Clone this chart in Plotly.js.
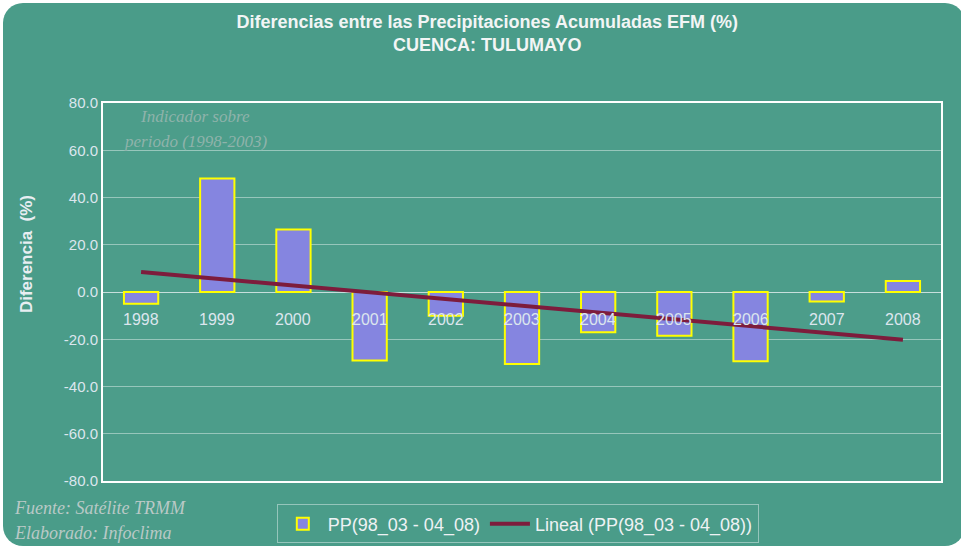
<!DOCTYPE html>
<html>
<head>
<meta charset="utf-8">
<script src="https://cdn.plot.ly/plotly-3.0.1.min.js"></script>
<style>
html,body{margin:0;padding:0;background:#ffffff;}
#wrap{position:absolute;left:3px;top:3px;width:962px;height:543px;background:#4a9c89;border-radius:20px;overflow:hidden;}
#chart{position:absolute;left:-3px;top:-3px;width:961px;height:551px;}
</style>
</head>
<body>
<div id="wrap"><div id="chart"></div></div>
<script>
// Data
const categories = ['1998','1999','2000','2001','2002','2003','2004','2005','2006','2007','2008'];
const ppValues = [-5.0, 48.0, 26.5, -29.0, -10.0, -30.5, -17.0, -18.5, -29.3, -4.0, 4.7];
const trendX = ['1998','2008'];
const trendValues = [8.5, -20.2];
const yTickValues = [-80,-60,-40,-20,0,20,40,60,80];
const yTickLabels = ['-80.0','-60.0','-40.0','-20.0','0.0','20.0','40.0','60.0','80.0'];
const seriesName = 'PP(98_03 - 04_08)';
const trendName = 'Lineal (PP(98_03 - 04_08))';

const labelColor = '#dce6ee';

const traces = [
  {
    type:'bar', x:categories, y:ppValues, name:seriesName, width:0.45,
    marker:{color:'#8585e0', line:{color:'#ffff00', width:2}}
  },
  {
    type:'scatter', mode:'lines', x:trendX, y:trendValues, name:trendName,
    line:{color:'#7d1c3c', width:4}
  }
];

// category labels sit just under the zero line (axis crosses at 0)
const annotations = categories.map((c, i) => ({
  x:i, y:0, xref:'x', yref:'y', text:c, showarrow:false, yshift:-27,
  xanchor:'center', yanchor:'middle',
  font:{family:'Arial, Liberation Sans, sans-serif', size:16, color:labelColor}
}));

annotations.push(
  {xref:'paper', yref:'paper', x:-0.092, xanchor:'center', y:0.6, yanchor:'middle', text:'<b>Diferencia  (%)</b>', textangle:-90, showarrow:false,
   font:{family:'Arial, Liberation Sans, sans-serif', size:17, color:'#e8eef2'}},
  {xref:'paper', yref:'paper', x:0.11, xanchor:'center', y:0.963, yanchor:'middle', text:'<i>Indicador sobre</i>', showarrow:false,
   font:{family:'Liberation Serif, serif', size:17, color:'#8fb3ab'}},
  {xref:'paper', yref:'paper', x:0.11, xanchor:'center', y:0.897, yanchor:'middle', text:'<i>periodo (1998-2003)</i>', showarrow:false,
   font:{family:'Liberation Serif, serif', size:17, color:'#8fb3ab'}},
  {xref:'paper', yref:'paper', x:-0.1086, xanchor:'left', y:-0.0714, yanchor:'middle', text:'<i>Fuente: Satélite TRMM</i>', showarrow:false,
   font:{family:'Liberation Serif, serif', size:18, color:'#b9c9c6'}},
  {xref:'paper', yref:'paper', x:-0.1086, xanchor:'left', y:-0.1376, yanchor:'middle', text:'<i>Elaborado: Infoclima</i>', showarrow:false,
   font:{family:'Liberation Serif, serif', size:18, color:'#b9c9c6'}}
);

const layout = {
  width:961, height:551,
  paper_bgcolor:'rgba(0,0,0,0)',
  plot_bgcolor:'#4c9d8a',
  margin:{l:103, r:20, t:103, b:70, autoexpand:false},
  title:{
    text:'<b>Diferencias entre las Precipitaciones Acumuladas EFM (%)<br>CUENCA: TULUMAYO</b>',
    x:0.507, xanchor:'center', y:0.95, yanchor:'top',
    font:{family:'Arial, Liberation Sans, sans-serif', size:18, color:'#f2f5f5'}
  },
  xaxis:{
    type:'category', showticklabels:false, showgrid:false, zeroline:false,
    showline:true, mirror:true, linecolor:'#ffffff', linewidth:2,
    range:[-0.5, 10.5]
  },
  yaxis:{
    range:[-80,80], tickvals:yTickValues, ticktext:yTickLabels,
    showgrid:true, gridcolor:'rgba(225,240,235,0.5)', gridwidth:1,
    zeroline:true, zerolinecolor:'rgba(230,240,240,0.8)', zerolinewidth:1,
    showline:true, mirror:true, linecolor:'#ffffff', linewidth:2,
    ticks:'', ticklen:0,
    tickfont:{family:'Arial, Liberation Sans, sans-serif', size:15, color:labelColor}
  },
  showlegend:true,
  legend:{
    orientation:'h', x:0.495, xanchor:'center', y:-0.062, yanchor:'top',
    bgcolor:'rgba(0,0,0,0)', bordercolor:'rgba(200,225,220,0.6)', borderwidth:1,
    font:{family:'Arial, Liberation Sans, sans-serif', size:18, color:'#eef2f4'},
    itemwidth:40,
    traceorder:'normal'
  },
  annotations:annotations
};

Plotly.newPlot('chart', traces, layout, {displayModeBar:false, staticPlot:true});
</script>
</body>
</html>
